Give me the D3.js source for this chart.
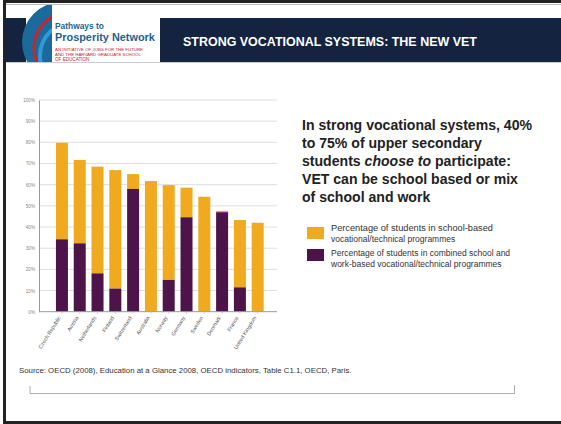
<!DOCTYPE html>
<html><head><meta charset="utf-8">
<script src="https://cdn.jsdelivr.net/npm/d3@7"></script>
<style>body{margin:0;background:#fff}svg{display:block}</style>
</head><body>
<svg id="c" width="561" height="424"></svg>
<script>
const countries = ["Czech Republic","Austria","Netherlands","Finland","Switzerland","Australia","Norway","Germany","Sweden","Denmark","France","United Kingdom"];
const combinedPct = [34.2, 32.3, 18.1, 10.9, 58.0, 0, 15.0, 44.6, 0, 47.0, 11.5, 0];
const totalPct    = [79.8, 71.7, 68.5, 66.9, 65.0, 61.7, 59.8, 58.6, 54.3, 47.6, 43.3, 42.0];
const yTicks = [0,10,20,30,40,50,60,70,80,90,100];
const colors = {school:"#efaa1f", combined:"#4c1449"};
const FONT = "Liberation Sans, Arial, sans-serif";

const svg = d3.select("#c");
function fit(sel, w){
  const cur = parseFloat(sel.attr("font-size"));
  const m = sel.node().getComputedTextLength();
  sel.attr("font-size", (cur*w/m).toFixed(2));
  return sel;
}

// frame
svg.append("rect").attr("x",3).attr("y",0).attr("width",558).attr("height",3).attr("fill","#222");
svg.append("rect").attr("x",3).attr("y",0).attr("width",3).attr("height",424).attr("fill","#222");
svg.append("rect").attr("x",3).attr("y",421).attr("width",558).attr("height",3).attr("fill","#222");
svg.append("line").attr("x1",6).attr("x2",561).attr("y1",4.5).attr("y2",4.5).attr("stroke","#bbb").attr("stroke-width",1);

// header
svg.append("rect").attr("x",6).attr("y",18).attr("width",20).attr("height",44).attr("fill","#14233f");
svg.append("rect").attr("x",160).attr("y",18).attr("width",401).attr("height",44).attr("fill","#14233f");
svg.append("line").attr("x1",6).attr("x2",561).attr("y1",62.5).attr("y2",62.5).attr("stroke","#c9ccd2");
// logo shape
const defs = svg.append("defs");
defs.append("clipPath").attr("id","lc").append("rect").attr("x",0).attr("y",5).attr("width",52).attr("height",57);
const lg = svg.append("g").attr("clip-path","url(#lc)");
lg.append("circle").attr("cx",62).attr("cy",42).attr("r",40).attr("fill","#1c6a9c");
lg.append("circle").attr("cx",70).attr("cy",48).attr("r",36).attr("fill","none").attr("stroke","#c8232f").attr("stroke-width",3);
lg.append("circle").attr("cx",74).attr("cy",56).attr("r",34).attr("fill","none").attr("stroke","#2f9bd6").attr("stroke-width",4);
lg.append("circle").attr("cx",82).attr("cy",60).attr("r",32).attr("fill","#1c6a9c");
svg.append("rect").attr("x",52).attr("y",5).attr("width",108).attr("height",57).attr("fill","#fff");
const t1 = svg.append("text").attr("x",55).attr("y",29).attr("font-family",FONT).attr("font-weight","bold").attr("font-size",12).attr("fill","#1f5f93").text("Pathways to");
fit(t1,49);
const t2 = svg.append("text").attr("x",55).attr("y",41).attr("font-family",FONT).attr("font-weight","bold").attr("font-size",12).attr("fill","#1f5f93").text("Prosperity Network");
fit(t2,100);
["AN INITIATIVE OF JOBS FOR THE FUTURE","AND THE HARVARD GRADUATE SCHOOL","OF EDUCATION"].forEach((s,i)=>{
  const t = svg.append("text").attr("x",55).attr("y",50.5+i*5).attr("font-family",FONT).attr("font-size",4.6).attr("fill","#c8202f").text(s);
  if(i<2) fit(t, i==0?88:86);
});
const title = svg.append("text").attr("x",183).attr("y",46).attr("font-family",FONT).attr("font-weight","bold").attr("font-size",13).attr("fill","#fff").text("STRONG VOCATIONAL SYSTEMS: THE NEW VET");
fit(title,294);

// chart
const y = d3.scaleLinear().domain([0,100]).range([311.7,100]);
const x = d3.scaleBand().domain(countries).range([39,277]).paddingInner(0.326).paddingOuter(0.85).align(0.56);
const g = svg.append("g");
g.selectAll(".grid").data(yTicks.filter(d=>d>0)).join("line")
  .attr("x1",39).attr("x2",277).attr("y1",d=>y(d)).attr("y2",d=>y(d))
  .attr("stroke","#d6d6d6").attr("stroke-width",0.8);
const yAxis = g.append("g").attr("transform","translate(39,0)")
  .call(d3.axisLeft(y).tickValues(yTicks).tickSize(0).tickPadding(4).tickFormat(d=>d+"%"));
yAxis.select(".domain").attr("stroke","#999");
yAxis.selectAll("text").attr("font-family",FONT).attr("font-size",4.6).attr("fill","#888");

const stack = countries.map((c,i)=>({c, comb:combinedPct[i], tot:totalPct[i]}));
g.selectAll(".sch").data(stack).join("rect")
  .attr("x",d=>x(d.c)).attr("width",x.bandwidth())
  .attr("y",d=>y(d.tot)).attr("height",d=>y(d.comb)-y(d.tot)).attr("fill",colors.school);
g.selectAll(".cmb").data(stack.filter(d=>d.comb>0)).join("rect")
  .attr("x",d=>x(d.c)).attr("width",x.bandwidth())
  .attr("y",d=>y(d.comb)).attr("height",d=>y(0)-y(d.comb)).attr("fill",colors.combined);

const xAxis = g.append("g").attr("transform",`translate(0,${y(0)})`)
  .call(d3.axisBottom(x).tickSize(2).tickPadding(3));
xAxis.select(".domain").attr("stroke","#999").attr("d","M39,0H277");
xAxis.selectAll(".tick line").attr("stroke","#ccc");
xAxis.selectAll("text").attr("font-family",FONT).attr("font-size",5.3).attr("fill","#555")
  .attr("text-anchor","end").attr("dy",0).attr("y",0)
  .attr("transform","translate(-1,6) rotate(-58)");

// headline
const lines = [["In strong vocational systems, 40%"],["to 75% of upper secondary"],["students ",["choose to"]," participate:"],["VET can be school based or mix"],["of school and work"]];
const hl = svg.append("text").attr("font-family",FONT).attr("font-weight","bold").attr("font-size",14.5).attr("fill","#222");
lines.forEach((ln,i)=>{
  const tl = hl.append("tspan").attr("x",302).attr("y",129.5+i*18.2);
  ln.forEach((p,j)=>{
    if(Array.isArray(p)) (j===0?tl:hl.append("tspan")).text(p[0]).attr("font-style","italic");
    else (j===0?tl:hl.append("tspan")).text(p);
  });
});
{
  const first = hl.select("tspan").node();
  const w = first.getComputedTextLength();
  hl.attr("font-size", (14.5*230/w).toFixed(2));
}

// legend
const legLines = [["Percentage of students in school-based","vocational/technical programmes"],["Percentage of students in combined school and","work-based vocational/technical programmes"]];
const lcol = [colors.school, colors.combined];
const sqY = [227,249], txY = [230.5,256];
legLines.forEach((ll,i)=>{
  svg.append("rect").attr("x",307).attr("y",sqY[i]).attr("width",17).attr("height",12).attr("fill",lcol[i]);
  ll.forEach((s,k)=>{
    const t = svg.append("text").attr("x",331).attr("y",txY[i]+k*11).attr("font-family",FONT).attr("font-size",8.5).attr("fill","#333").text(s);
    if(i===0&&k===0) fit(t,162);
  });
});

// source
const src = svg.append("text").attr("x",19).attr("y",373).attr("font-family",FONT).attr("font-size",7).attr("fill","#333")
  .text("Source: OECD (2008), Education at a Glance 2008, OECD indicators, Table C1.1, OECD, Paris.");
fit(src,333);
svg.append("path").attr("d","M30,386V393.5H514.5V385").attr("fill","none").attr("stroke","#999").attr("stroke-width",0.8);
</script>
</body></html>
